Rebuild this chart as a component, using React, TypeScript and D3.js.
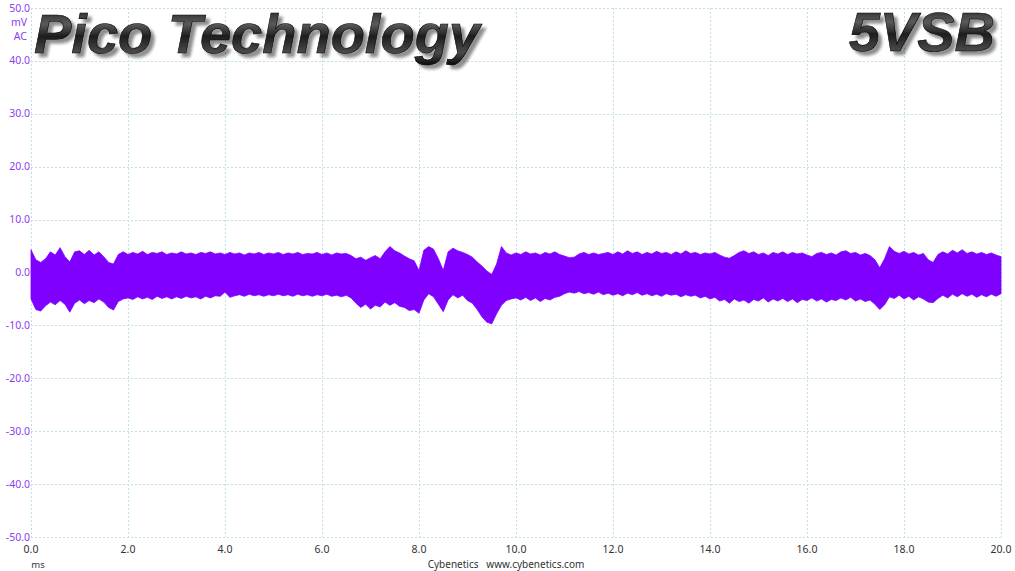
import React from "react";
import * as d3 from "d3";

const TITLE = "Pico Technology";
const RAIL = "5VSB";
const Y_UNIT = ["mV", "AC"];
const X_UNIT = "ms";
const FOOTER = "Cybenetics   www.cybenetics.com";

const xTicks = [0, 2, 4, 6, 8, 10, 12, 14, 16, 18, 20];
const yTicks = [50, 40, 30, 20, 10, 0, -10, -20, -30, -40, -50];

// sample step in ms
const STEP_MS = 0.1;

// upper envelope of the ripple (mV), one value per 0.1 ms
const upper = [
  4.3, 2.4, 1.9, 2.6, 3.9, 3.3, 4.7, 3.0, 2.0, 3.9,
  4.1, 3.4, 4.2, 3.3, 3.9, 3.0, 1.9, 1.6, 3.4, 3.9,
  3.4, 3.8, 3.5, 4.0, 3.4, 3.8, 3.6, 3.9, 3.4, 3.7,
  3.5, 3.9, 3.5, 3.7, 3.4, 3.8, 3.6, 3.9, 3.5, 3.7,
  3.4, 3.8, 3.5, 3.7, 3.3, 3.7, 3.5, 3.8, 3.4, 3.7,
  3.5, 3.8, 3.4, 3.7, 3.5, 3.8, 3.4, 3.6, 3.5, 3.8,
  3.4, 3.7, 3.3, 3.7, 3.5, 3.6, 3.2, 2.6, 2.9, 2.3,
  2.8, 3.2, 2.6, 3.9, 4.9, 4.1, 3.7, 3.1, 2.6, 2.2,
  0.4, 4.2, 4.9, 4.4, 2.6, 0.4, 3.9, 4.6, 4.1, 3.8,
  3.4, 2.9, 2.0, 1.2, 0.3, -0.4, 1.6, 4.9, 3.7, 3.3,
  3.7, 3.4, 3.9, 3.5, 3.7, 3.3, 3.8, 3.5, 3.9, 3.4,
  3.1, 2.8, 2.9, 3.5, 3.8, 3.4, 3.7, 3.4, 3.6, 3.8,
  3.4, 3.9, 3.5, 4.1, 3.6, 3.9, 3.4, 3.8, 3.5, 4.0,
  3.6, 3.8, 3.4, 3.9, 3.5, 4.1, 3.6, 3.8, 3.4, 3.7,
  3.5, 3.8, 3.3, 2.9, 2.7, 3.2, 3.8, 4.1, 3.6, 3.9,
  3.4, 3.7, 3.2, 3.8, 3.5, 3.9, 3.4, 3.8, 3.5, 3.7,
  3.3, 3.0, 3.6, 3.8, 3.4, 3.7, 3.3, 3.9, 4.1, 3.6,
  3.8, 3.3, 3.6, 3.2, 2.4, 0.9, 2.6, 4.9, 4.0, 3.6,
  4.0, 3.5, 3.8, 3.3, 3.6, 2.4, 1.9, 3.4, 3.9, 3.5,
  4.2, 3.7, 4.3, 3.6, 3.9, 3.5, 3.8, 3.4, 3.7, 3.3,
  3.0,
];

// lower envelope of the ripple (mV), one value per 0.1 ms
const lower = [
  -5.0, -7.0, -7.3, -6.3, -5.6, -6.1, -5.3, -6.0, -7.5, -5.8,
  -5.2, -5.9, -5.3, -5.7, -5.0, -5.6, -6.6, -7.1, -5.5, -5.0,
  -4.8, -5.1, -4.6, -5.0, -4.7, -5.1, -4.5, -4.9, -4.6, -5.0,
  -4.6, -4.9, -4.5, -4.8, -4.6, -5.0, -4.5, -4.8, -4.4, -4.5,
  -3.7, -4.7, -4.4, -4.2, -4.5, -4.1, -4.4, -4.2, -4.5, -4.2,
  -4.4, -4.1, -4.4, -4.2, -4.5, -4.1, -4.4, -4.2, -4.5, -4.2,
  -4.4, -4.1, -4.5, -4.3, -4.6, -4.3, -4.8, -5.8, -6.6, -6.0,
  -6.9, -6.2, -6.5, -5.6, -6.2, -5.7, -6.4, -6.6, -7.2, -7.0,
  -7.7, -5.2, -4.0, -4.6, -6.0, -7.4, -5.2, -4.2, -4.8, -4.3,
  -5.3, -5.8, -7.0, -8.4, -9.4, -9.7, -7.8, -6.2, -5.3, -5.0,
  -4.8, -5.2, -4.7, -5.3, -4.8, -5.5, -4.9, -5.2, -4.7, -4.5,
  -4.0, -3.7, -3.9, -3.6, -4.0, -3.8, -4.1, -3.7, -4.2, -3.9,
  -4.3, -4.0, -4.4, -3.9, -4.2, -3.8, -4.3, -4.0, -4.4, -4.1,
  -4.5, -4.0, -4.3, -4.1, -4.6, -4.2, -4.5, -4.3, -4.8, -4.5,
  -5.0, -4.7, -5.4, -5.1, -5.8, -5.0, -5.5, -5.2, -5.8, -5.1,
  -5.4, -4.8, -5.6, -5.0, -5.4, -4.9, -5.5, -5.0, -5.7, -5.1,
  -5.3, -4.8, -5.4, -5.0, -5.6, -5.1, -5.3, -4.8, -5.2, -4.7,
  -5.4, -5.0, -5.5, -5.2, -6.0, -7.0, -6.1, -4.6, -4.9, -4.3,
  -5.0, -4.5, -5.2, -4.6, -5.0, -5.6, -5.7, -4.9, -4.3, -4.8,
  -4.1, -4.6, -4.0, -4.5, -4.1, -4.7, -4.2, -4.6, -4.1, -4.5,
  -4.0,
];

const W = 1015;
const H = 571;
const M = { left: 31, right: 1001, top: 8, bottom: 537 };

export default function App() {
  const x = d3.scaleLinear().domain([0, 20]).range([M.left, M.right]);
  const y = d3.scaleLinear().domain([-50, 50]).range([M.bottom, M.top]);

  const samples = upper.map((u, i) => ({ t: i * STEP_MS, hi: u, lo: lower[i] }));
  const area = d3
    .area<{ t: number; hi: number; lo: number }>()
    .x((d) => x(d.t))
    .y0((d) => y(d.lo))
    .y1((d) => y(d.hi))
    .curve(d3.curveLinear);

  const gridColor = "#bcdfe8";
  const purple = "#8b3df0";
  const labelFont = "'Noto Sans', 'Open Sans', sans-serif";
  const titleFont = "'Liberation Sans', Arial, sans-serif";

  return (
    <svg
      width={W}
      height={H}
      viewBox={`0 0 ${W} ${H}`}
      style={{ position: "absolute", left: 0, top: 0, display: "block", background: "#fff" }}
    >
      <defs>
        <linearGradient id="metal" x1="0" y1="0" x2="0" y2="1">
          <stop offset="0" stopColor="#111" />
          <stop offset="0.35" stopColor="#5a5a5a" />
          <stop offset="0.55" stopColor="#1e1e1e" />
          <stop offset="0.8" stopColor="#4a4a4a" />
          <stop offset="1" stopColor="#0a0a0a" />
        </linearGradient>
        <filter id="shadow" x="-5%" y="-20%" width="112%" height="150%">
          <feGaussianBlur in="SourceAlpha" stdDeviation="1.5" />
          <feOffset dx="4" dy="4" result="b" />
          <feComponentTransfer>
            <feFuncA type="linear" slope="0.45" />
          </feComponentTransfer>
          <feMerge>
            <feMergeNode />
            <feMergeNode in="SourceGraphic" />
          </feMerge>
        </filter>
      </defs>

      {/* grid */}
      <g stroke={gridColor} strokeWidth={1} strokeDasharray="2,2" fill="none">
        {xTicks.map((t) => (
          <line key={"gx" + t} x1={Math.round(x(t)) + 0.5} x2={Math.round(x(t)) + 0.5} y1={M.top} y2={M.bottom} />
        ))}
        {yTicks.map((v) => (
          <line key={"gy" + v} x1={M.left} x2={M.right} y1={Math.round(y(v)) + 0.5} y2={Math.round(y(v)) + 0.5} />
        ))}
      </g>

      {/* waveform */}
      <path d={area(samples) || ""} fill="#7f00ff" stroke="#7f00ff" strokeWidth={0.8} />

      {/* y labels */}
      <g fontFamily={labelFont} fontSize={10.5} fill={purple} textAnchor="end">
        {yTicks.map((v) => (
          <text key={"yl" + v} x={30} y={y(v) + 3.5}>
            {v.toFixed(1)}
          </text>
        ))}
        {Y_UNIT.map((u, i) => (
          <text key={u} x={27} y={y(50) + 17.5 + i * 14}>
            {u}
          </text>
        ))}
      </g>

      {/* x labels */}
      <g fontFamily={labelFont} fontSize={10.5} fill="#333" textAnchor="middle">
        {xTicks.map((t) => (
          <text key={"xl" + t} x={x(t)} y={553}>
            {t.toFixed(1)}
          </text>
        ))}
      </g>
      <text x={38} y={568} fontFamily={labelFont} fontSize={9.5} fill="#333" textAnchor="middle">
        {X_UNIT}
      </text>
      <text x={506} y={568} fontFamily={labelFont} fontSize={10} fill="#333" textAnchor="middle" style={{ whiteSpace: "pre" }}>
        {FOOTER}
      </text>

      {/* titles */}
      <g fontFamily={titleFont} fontWeight="bold" fontStyle="italic" fontSize={56} fill="url(#metal)" filter="url(#shadow)" stroke="#000" strokeWidth={0.6}>
        <text x={34} y={53}>{TITLE}</text>
        <text x={995} y={51} textAnchor="end">{RAIL}</text>
      </g>
    </svg>
  );
}
